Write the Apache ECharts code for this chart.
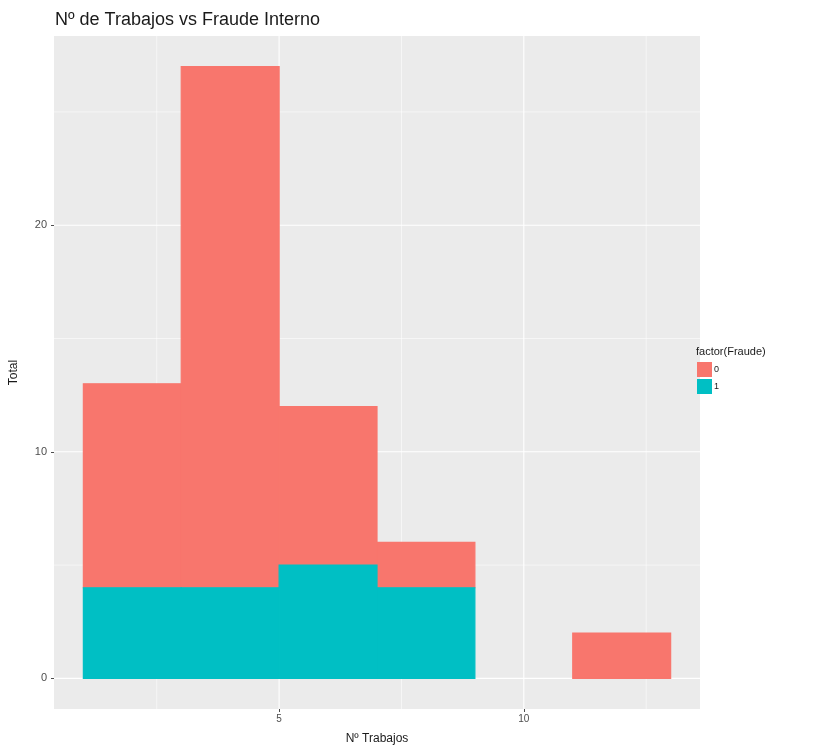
<!DOCTYPE html>
<html>
<head>
<meta charset="utf-8">
<script src="https://cdn.jsdelivr.net/npm/echarts@6/dist/echarts.min.js"></script>
<style>html,body{margin:0;padding:0;background:#fff;}#c{width:821px;height:746px;}</style>
</head>
<body>
<div id="c"></div>
<script>
const binStart = [1, 3, 5, 7, 9, 11];
const binWidth = 2;
const countFraude0 = [9, 23, 7, 2, 0, 2];
const countFraude1 = [4, 4, 5, 4, 0, 0];
const xTicks = [5, 10];
const yTicks = [0, 10, 20];
const xMinor = [2.5, 7.5, 12.5];
const yMinor = [5, 15, 25];
const xMin = 0.4, xMax = 13.6, yMin = -1.35, yMax = 28.35;

const FONT = '"Liberation Sans", Arial, sans-serif';
const chart = echarts.init(document.getElementById('c'), null, {renderer: 'canvas'});

const dataF1 = binStart.map((s, i) => [s, s + binWidth, 0, countFraude1[i]]);
const dataF0 = binStart.map((s, i) => [s, s + binWidth, countFraude1[i], countFraude1[i] + countFraude0[i]]);

function rectItem(params, api) {
  const x0 = api.value(0), x1 = api.value(1), b = api.value(2), t = api.value(3);
  if (t <= b) return null;
  const p0 = api.coord([x0, b]);
  const p1 = api.coord([x1, t]);
  const c = api.visual('color');
  return {
    type: 'rect',
    shape: {x: p0[0], y: p1[1], width: p1[0] - p0[0], height: p0[1] - p1[1]},
    style: {fill: c, stroke: c, lineWidth: 1.2}
  };
}

const gridLines = [];
xTicks.forEach(v => gridLines.push([v, 0, 1.1]));
xMinor.forEach(v => gridLines.push([v, 0, 0.55]));
yTicks.forEach(v => gridLines.push([v, 1, 1.1]));
yMinor.forEach(v => gridLines.push([v, 1, 0.55]));

function lineItem(params, api) {
  const v = api.value(0), dir = api.value(1), w = api.value(2);
  let a, b;
  if (dir === 0) { a = api.coord([v, yMin]); b = api.coord([v, yMax]); }
  else { a = api.coord([xMin, v]); b = api.coord([xMax, v]); }
  return {
    type: 'line',
    shape: {x1: a[0], y1: a[1], x2: b[0], y2: b[1]},
    style: {stroke: '#FFFFFF', lineWidth: w}
  };
}

chart.setOption({
  animation: false,
  backgroundColor: '#FFFFFF',
  title: [
    {text: 'Nº de Trabajos vs Fraude Interno', left: 50, top: 6,
     textStyle: {fontFamily: FONT, fontSize: 18, fontWeight: 'normal', color: '#1A1A1A'}},
    {text: 'factor(Fraude)', left: 691, top: 341,
     textStyle: {fontFamily: FONT, fontSize: 11, fontWeight: 'normal', color: '#1A1A1A'}}
  ],
  legend: {
    orient: 'vertical', left: 692, top: 357,
    itemWidth: 15, itemHeight: 15, itemGap: 2,
    icon: 'rect',
    data: ['0', '1'],
    textStyle: {fontFamily: FONT, fontSize: 9, color: '#1A1A1A', padding: [0, 0, 0, -3]}
  },
  grid: {left: 54, top: 36, right: 121, bottom: 37, show: true, backgroundColor: '#EBEBEB', borderWidth: 0,
         containLabel: false, outerBoundsMode: 'none'},
  xAxis: {
    type: 'value', min: xMin, max: xMax,
    name: 'Nº Trabajos', nameLocation: 'middle', nameGap: 24,
    nameTextStyle: {fontFamily: FONT, fontSize: 12, color: '#1A1A1A'},
    axisLine: {show: false, onZero: false},
    axisTick: {show: true, customValues: xTicks, length: 3, lineStyle: {color: '#4D4D4D', width: 1}},
    axisLabel: {customValues: xTicks, fontFamily: FONT, fontSize: 10, color: '#4D4D4D', margin: 5},
    splitLine: {show: false}
  },
  yAxis: {
    type: 'value', min: yMin, max: yMax,
    name: 'Total', nameLocation: 'middle', nameGap: 34, nameRotate: 90,
    nameTextStyle: {fontFamily: FONT, fontSize: 12, color: '#1A1A1A'},
    axisLine: {show: false, onZero: false},
    axisTick: {show: true, customValues: yTicks, length: 3, lineStyle: {color: '#4D4D4D', width: 1}},
    axisLabel: {customValues: yTicks, fontFamily: FONT, fontSize: 11, color: '#4D4D4D', margin: 7},
    splitLine: {show: false}
  },
  series: [
    {type: 'custom', name: 'grid', silent: true, renderItem: lineItem, data: gridLines, z: 1,
     encode: {x: 0, y: 0}, clip: true},
    {type: 'custom', name: '0', renderItem: rectItem, data: dataF0, z: 2,
     itemStyle: {color: '#F8766D'}, encode: {x: [0, 1], y: [2, 3]}},
    {type: 'custom', name: '1', renderItem: rectItem, data: dataF1, z: 2,
     itemStyle: {color: '#00BFC4'}, encode: {x: [0, 1], y: [2, 3]}}
  ]
});
</script>
</body>
</html>
